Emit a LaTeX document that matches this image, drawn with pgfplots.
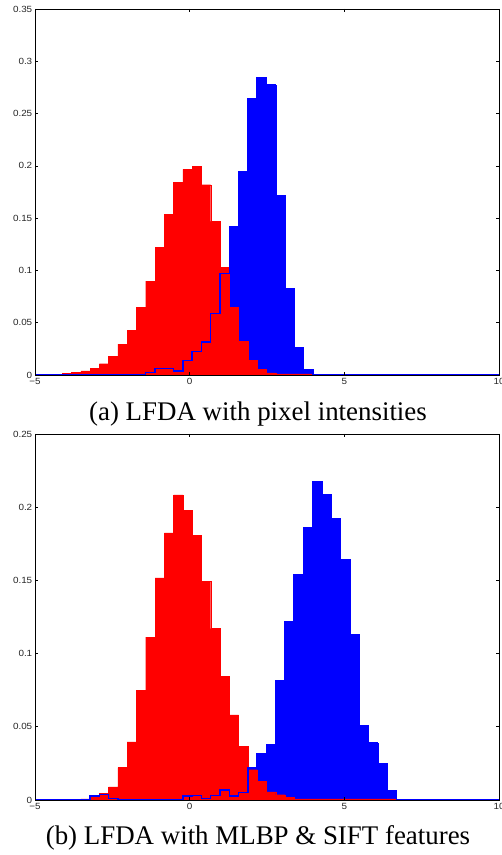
\documentclass[border=0pt]{standalone}
\usepackage{fontspec}
\setmainfont{Liberation Serif}
\newfontfamily\ticksans{Liberation Sans}
\usepackage{pgfplots}
\pgfplotsset{compat=1.18}
\definecolor{hred}{RGB}{255,0,0}
\definecolor{hblue}{RGB}{0,0,255}
\pgfplotsset{
  histax/.style={
    scale only axis, width=464bp, height=366bp,
    xmin=-5, xmax=10, ymin=0,
    xtick={-5,0,5,10}, xticklabels={−5,0,5,10},
    tick align=inside, major tick length=3bp,
    tick style={black, line width=0.6bp},
    axis line style={black, line width=0.8bp},
    tick label style={font=\ticksans\fontsize{9}{10}\selectfont, xscale=1.1, text=black!85},
    xticklabel style={yshift=0.5bp},
    yticklabel style={xshift=1bp},
    /pgf/number format/assume math mode=true,
    axis on top,
    clip=true,
  }
}
\begin{document}
\begin{tikzpicture}
% ---------------- (a) ----------------
\begin{axis}[histax, at={(35bp,480bp)}, anchor=south west, ymax=0.35,
  ytick={0,0.05,0.1,0.15,0.2,0.25,0.3,0.35},
  yticklabels={0,0.05,0.1,0.15,0.2,0.25,0.3,0.35}]
\addplot[const plot, fill=hblue, draw=hblue, line width=0.3bp] coordinates {
(-1.42,0.0026) (-1.12,0.006) (-0.82,0.006) (-0.52,0.004) (-0.22,0.0137)
(0.08,0.0225) (0.38,0.0315) (0.68,0.0589) (0.98,0.097) (1.28,0.142)
(1.58,0.1944) (1.88,0.264) (2.18,0.2838) (2.48,0.2775) (2.78,0.1718)
(3.08,0.0824) (3.38,0.0264) (3.68,0.0054) (3.98,0.0054)} \closedcycle;
\addplot[const plot, fill=hred, draw=hred, line width=0.3bp] coordinates {
(-4.42,0.0008) (-4.12,0.0016) (-3.82,0.0026) (-3.52,0.004) (-3.22,0.0064)
(-2.92,0.0108) (-2.62,0.018) (-2.32,0.0296) (-2.02,0.043) (-1.72,0.0649)
(-1.42,0.0897) (-1.12,0.1219) (-0.82,0.1537) (-0.52,0.1845) (-0.22,0.1966)
(0.08,0.1995) (0.38,0.182) (0.68,0.147) (0.98,0.1028) (1.28,0.0646)
(1.58,0.0325) (1.88,0.0143) (2.18,0.0057) (2.48,0.002) (2.78,0.001)
(3.08,0.001) (3.38,0.001) (3.68,0.001) (3.98,0.001)} \closedcycle;
\addplot[const plot, draw=hblue, line width=1.5bp] coordinates {
(-5,0) (-1.42,0.0026) (-1.12,0.006) (-0.82,0.006) (-0.52,0.004) (-0.22,0.0137)
(0.08,0.0225) (0.38,0.0315) (0.68,0.0589) (0.98,0.097) (1.28,0.142)
(1.58,0.1944) (1.88,0.264) (2.18,0.2838) (2.48,0.2775) (2.78,0.1718)
(3.08,0.0824) (3.38,0.0264) (3.68,0.0054) (3.98,0) (10,0)};
\end{axis}
% ---------------- (b) ----------------
\begin{axis}[histax, at={(35bp,55bp)}, anchor=south west, ymax=0.25,
  ytick={0,0.05,0.1,0.15,0.2,0.25},
  yticklabels={0,0.05,0.1,0.15,0.2,0.25}]
\addplot[const plot, fill=hblue, draw=hblue, line width=0.3bp] coordinates {
(-3.22,0.0027) (-2.92,0.0039) (-2.62,0.001) (-2.32,0) (-0.22,0.0027)
(0.08,0.003) (0.38,0.001) (0.68,0.003) (0.98,0.0068) (1.28,0.0027)
(1.58,0.005) (1.88,0.022) (2.18,0.0315) (2.48,0.0377) (2.78,0.0817)
(3.08,0.1217) (3.38,0.1539) (3.68,0.1861) (3.98,0.2176) (4.28,0.2082)
(4.58,0.1922) (4.88,0.1644) (5.18,0.113) (5.48,0.0509) (5.78,0.0388)
(6.08,0.0249) (6.38,0.0064) (6.68,0.0064)} \closedcycle;
\addplot[const plot, fill=hred, draw=hred, line width=0.3bp] coordinates {
(-3.52,0.0007) (-3.22,0.0018) (-2.92,0.0045) (-2.62,0.0089) (-2.32,0.0221)
(-2.02,0.0397) (-1.72,0.0747) (-1.42,0.1112) (-1.12,0.1518) (-0.82,0.1824)
(-0.52,0.2084) (-0.22,0.198) (0.08,0.1808) (0.38,0.1493) (0.68,0.1171)
(0.98,0.0845) (1.28,0.0582) (1.58,0.0365) (1.88,0.0207) (2.18,0.0126)
(2.48,0.0055) (2.78,0.0036) (3.08,0.0018) (3.38,0.0008) (3.68,0.0008)
(3.98,0.0008) (4.28,0.0008) (4.58,0.0008) (4.88,0.0008) (5.18,0.0008)
(5.48,0.0008) (5.78,0.0008) (6.08,0.0008) (6.38,0.0008) (6.68,0.0008)} \closedcycle;
\addplot[const plot, draw=hblue, line width=1.5bp] coordinates {
(-5,0) (-3.22,0.0027) (-2.92,0.0039) (-2.62,0.001) (-2.32,0) (-0.22,0.0027)
(0.08,0.003) (0.38,0.001) (0.68,0.003) (0.98,0.0068) (1.28,0.0027)
(1.58,0.005) (1.88,0.022) (2.18,0.0315) (2.48,0.0377) (2.78,0.0817)
(3.08,0.1217) (3.38,0.1539) (3.68,0.1861) (3.98,0.2176) (4.28,0.2082)
(4.58,0.1922) (4.88,0.1644) (5.18,0.113) (5.48,0.0509) (5.78,0.0388)
(6.08,0.0249) (6.38,0.0064) (6.68,0) (10,0)};
\end{axis}
\node[anchor=base, font=\fontsize{27}{30}\selectfont, inner sep=0pt] at (258bp,434.5bp) {(a) LFDA with pixel intensities};
\node[anchor=base, font=\fontsize{27}{30}\selectfont, inner sep=0pt] at (258bp,11bp) {(b) LFDA with MLBP \& SIFT features};
\pgfresetboundingbox
\path[use as bounding box] (0bp,0bp) rectangle (502bp,855bp);
\end{tikzpicture}
\end{document}
